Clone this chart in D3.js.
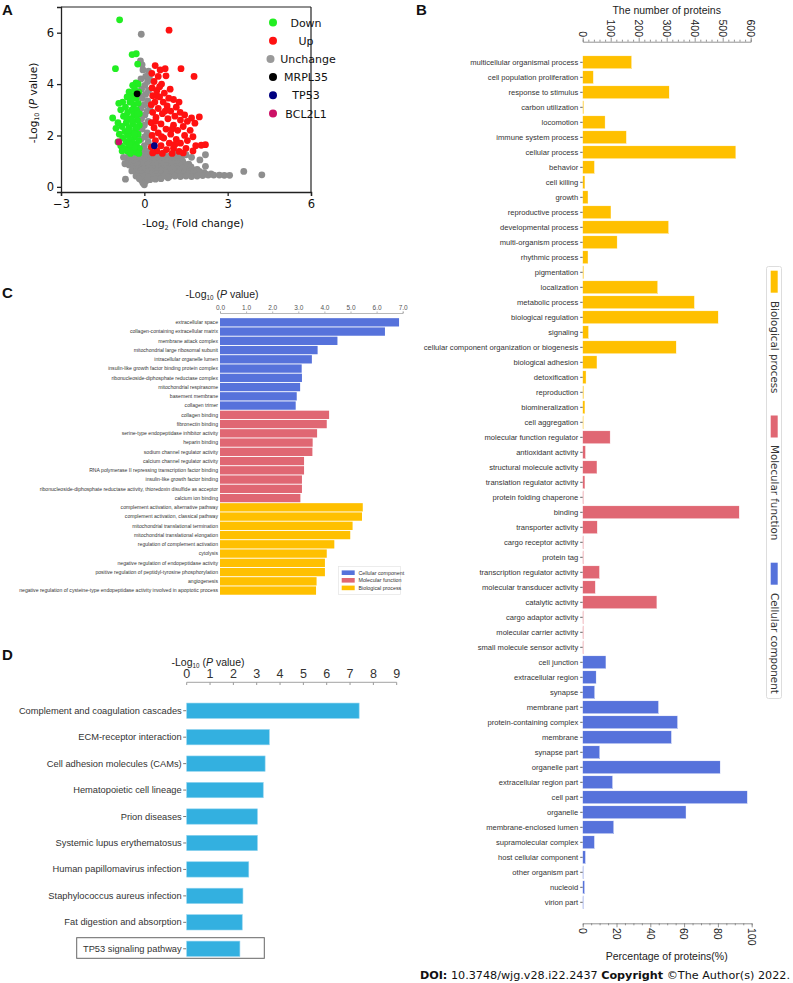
<!DOCTYPE html>
<html><head><meta charset="utf-8">
<script src="https://cdn.jsdelivr.net/npm/d3@7"></script>
<style>body{margin:0;background:#fff}svg{display:block}</style>
</head><body>
<svg id="fig" width="793" height="983"></svg>
<script>
// ---------------- DATA ----------------
// Panel A: volcano plot points [-log2 FC, -log10 P]
const volcanoUnchange = [
[-0.11,5.94],[-0.14,4.9],[-0.08,4.75],[0.15,4.5],[-0.05,4.55],[0.05,4.3],[-0.12,4.2],[0.12,4.1],[0.02,3.95],[-0.10,3.8],[0.15,3.75],[0.05,3.6],[-0.08,3.45],[0.12,3.35],[0.0,3.2],[-0.12,3.05],[0.10,2.95],[0.02,2.8],[-0.10,2.65],[0.14,2.55],[0.0,2.4],[-0.08,2.25],[0.10,2.1],[0.02,1.95],[-0.12,1.85],[0.14,1.75],[0.0,1.6],[-0.06,1.45],[0.08,1.4],[0.18,4.25],[0.20,3.1],[-0.15,3.55],[0.18,2.0],
[-0.55,1.25],[-0.4,1.2],[-0.25,1.22],[-0.1,1.25],[0.1,1.25],[0.3,1.22],[0.5,1.2],[0.7,1.22],[0.9,1.2],[1.1,1.22],[1.28,1.2],
[-0.5,1.12],[-0.32,1.13],[-0.18,1.12],[0.05,1.14],[0.22,1.12],[0.4,1.13],[0.6,1.12],[0.8,1.13],[1.0,1.12],[1.18,1.1],[1.32,1.1],
[-0.6,1.05],[-0.45,1.0],[-0.3,1.05],[-0.15,1.0],[0.0,1.05],[0.15,1.0],[0.32,1.05],[0.5,1.0],[0.68,1.03],[0.85,1.0],[1.02,1.02],[1.2,0.98],[1.38,1.0],
[-0.48,0.92],[-0.3,0.93],[-0.12,0.92],[0.05,0.93],[0.2,0.92],[0.38,0.93],[0.55,0.92],[0.72,0.92],[0.9,0.91],[1.08,0.9],[1.25,0.9],[1.42,0.9],[1.6,0.88],
[-0.55,0.85],[-0.38,0.8],[-0.2,0.85],[-0.05,0.8],[0.12,0.85],[0.28,0.8],[0.45,0.85],[0.62,0.8],[0.8,0.83],[0.98,0.8],[1.15,0.78],[1.32,0.82],[1.5,0.8],[1.68,0.78],
[-0.38,0.72],[-0.2,0.72],[-0.02,0.71],[0.15,0.72],[0.32,0.71],[0.5,0.72],[0.68,0.7],[0.85,0.71],[1.02,0.7],[1.2,0.69],[1.38,0.7],[1.55,0.68],[1.72,0.68],[1.9,0.68],
[-0.45,0.62],[-0.28,0.6],[-0.12,0.65],[0.05,0.6],[0.22,0.62],[0.4,0.6],[0.58,0.62],[0.75,0.58],[0.92,0.6],[1.1,0.58],[1.28,0.6],[1.45,0.58],[1.62,0.6],[1.8,0.58],[1.98,0.6],[2.15,0.55],
[-0.2,0.52],[-0.05,0.51],[0.1,0.52],[0.28,0.5],[0.45,0.51],[0.62,0.5],[0.8,0.5],[1.0,0.5],[1.2,0.5],[1.4,0.5],[1.6,0.5],[1.8,0.5],[2.0,0.5],[2.2,0.5],[2.4,0.5],
[-0.3,0.42],[-0.15,0.4],[0.0,0.42],[0.15,0.4],[0.32,0.42],[0.5,0.4],[0.7,0.42],[0.9,0.4],[1.1,0.42],[1.3,0.4],[1.5,0.42],[1.7,0.4],[1.9,0.42],[2.1,0.44],[2.3,0.46],[2.5,0.46],[2.7,0.46],[2.88,0.45],[3.07,0.45],
[-0.1,0.25],[0.05,0.22],[0.2,0.28],[0.4,0.3],[0.6,0.32],[0.85,0.35],[0.0,0.08],[-0.05,0.15],[0.12,0.33],[-0.18,0.32],
[2.2,1.25],[2.2,0.8],[3.58,0.6],[4.23,0.47],[-0.68,0.3],[2.0,1.05],[1.7,1.15],[1.5,1.25],[-0.7,0.9],[-0.75,1.15],[0.25,1.3],[-0.4,1.32],[0.7,1.32],[1.1,1.32]
];
const volcanoDown = [
[-0.89,6.5],[-1.04,4.6],[-0.44,5.15],[-0.29,5.18],[-0.24,4.78],
[-0.30,4.05],[-0.22,4.0],[-0.42,3.95],[-0.35,3.8],[-0.55,3.7],[-0.20,3.7],[-0.45,3.55],[-0.62,3.5],[-0.30,3.45],
[-0.78,3.3],[-0.92,3.25],[-0.52,3.3],[-0.38,3.2],[-0.22,3.25],[-0.68,3.1],[-0.45,3.0],[-0.28,3.0],[-0.85,3.0],
[-0.60,2.9],[-0.18,2.85],[-0.38,2.8],[-0.75,2.75],[-1.14,2.68],[-0.52,2.65],[-0.25,2.6],[-0.95,2.5],[-0.65,2.5],[-0.42,2.45],
[-0.18,2.4],[-0.80,2.35],[-1.02,2.28],[-0.55,2.3],[-0.32,2.25],[-0.70,2.15],[-0.45,2.1],[-0.22,2.05],[-0.90,2.05],[-0.60,2.0],
[-0.35,1.95],[-0.78,1.9],[-0.50,1.85],[-0.20,1.8],[-0.95,1.75],[-0.65,1.75],[-0.40,1.7],[-0.28,1.6],[-0.85,1.6],[-0.55,1.55],
[-0.72,1.5],[-0.18,1.5],[-0.42,1.45],[-0.62,1.4],[-0.30,1.35],[-0.50,1.3],[-0.20,1.3],[-0.80,1.4],[-0.36,1.55],[-0.25,2.85],[-0.48,3.35],[-0.33,3.6],[-0.58,2.2],[-0.27,2.3],[-0.45,2.6],[-0.65,2.7],[-0.35,2.05],[-0.53,1.65]
];
const volcanoUp = [
[0.89,6.1],[1.32,4.6],[1.79,4.3],[0.39,4.72],[0.57,4.55],[0.75,4.6],[0.78,4.32],[0.27,4.42],[0.50,4.3],[0.35,4.1],
[0.62,4.0],[0.93,3.8],[0.28,3.85],[0.45,3.75],[0.72,3.65],[0.30,3.55],[0.55,3.5],[0.88,3.45],[1.05,3.4],[0.38,3.3],
[0.68,3.3],[0.25,3.2],[0.82,3.15],[1.15,3.1],[0.50,3.05],[0.95,2.95],[1.29,2.9],[0.30,2.9],[0.65,2.85],[1.45,2.8],
[1.10,2.75],[1.70,2.68],[1.98,2.72],[0.42,2.7],[0.85,2.65],[1.30,2.6],[1.55,2.55],[0.25,2.5],[1.82,2.48],[0.60,2.45],
[1.05,2.4],[1.40,2.35],[0.35,2.3],[0.78,2.25],[1.20,2.2],[1.65,2.2],[0.50,2.1],[0.95,2.05],[1.45,2.0],[0.28,2.0],
[1.75,1.95],[0.70,1.9],[1.15,1.85],[1.55,1.8],[0.40,1.8],[0.90,1.7],[1.30,1.7],[2.20,1.64],[2.05,1.62],[1.85,1.6],
[0.60,1.6],[0.25,1.55],[1.05,1.5],[1.50,1.5],[0.80,1.45],[1.75,1.4],[0.45,1.4],[1.25,1.38],[0.30,1.32],[0.65,1.3],
[1.00,1.3],[1.40,1.32],[0.55,3.9],[0.40,2.55],[1.25,3.3],[0.62,1.95],[1.00,2.25],[0.75,2.95],[0.45,3.55],[1.10,1.65]
];
const highlightNames = ["MRPL35","TP53","BCL2L1"];
const highlightX = [-0.26, 0.36, -0.92];
const highlightY = [3.62, 1.6, 1.75];
const volcanoLegend = ["Down","Up","Unchange","MRPL35","TP53","BCL2L1"];
const volcanoXTicks = [-3,0,3,6];
const volcanoYTicks = [0,2,4,6];

// Panel B: GO level-2 classification (number of proteins)
const bpTerms = ["multicellular organismal process","cell population proliferation","response to stimulus","carbon utilization","locomotion","immune system process","cellular process","behavior","cell killing","growth","reproductive process","developmental process","multi-organism process","rhythmic process","pigmentation","localization","metabolic process","biological regulation","signaling","cellular component organization or biogenesis","biological adhesion","detoxification","reproduction","biomineralization","cell aggregation"];
const bpCounts = [175,38,309,4,80,156,547,42,8,19,101,307,123,19,4,268,399,484,21,334,51,12,4,8,3];
const mfTerms = ["molecular function regulator","antioxidant activity","structural molecule activity","translation regulator activity","protein folding chaperone","binding","transporter activity","cargo receptor activity","protein tag","transcription regulator activity","molecular transducer activity","catalytic activity","cargo adaptor activity","molecular carrier activity","small molecule sensor activity"];
const mfCounts = [98,10,51,8,3,559,52,3,3,60,45,265,2,3,2];
const ccTerms = ["cell junction","extracellular region","synapse","membrane part","protein-containing complex","membrane","synapse part","organelle part","extracellular region part","cell part","organelle","membrane-enclosed lumen","supramolecular complex","host cellular component","other organism part","nucleoid","virion part"];
const ccCounts = [83,48,43,271,339,317,61,491,107,588,369,111,42,10,2,7,2];
const bTopTicks = [0,100,200,300,400,500,600];
const bBottomTicks = [0,20,40,60,80,100];
const bLegend = ["Biological process","Molecular function","Cellular component"];

// Panel C: GO enrichment (-log10 P)
const cCCTerms = ["extracellular space","collagen-containing extracellular matrix","membrane attack complex","mitochondrial large ribosomal subunit","intracellular organelle lumen","insulin-like growth factor binding protein complex","ribonucleoside-diphosphate reductase complex","mitochondrial respirasome","basement membrane","collagen trimer"];
const cCCValues = [6.86,6.32,4.50,3.74,3.52,3.13,3.14,3.07,2.94,2.90];
const cMFTerms = ["collagen binding","fibronectin binding","serine-type endopeptidase inhibitor activity","heparin binding","sodium channel regulator activity","calcium channel regulator activity","RNA polymerase II repressing transcription factor binding","insulin-like growth factor binding","ribonucleoside-diphosphate reductase activity, thioredoxin disulfide as acceptor","calcium ion binding"];
const cMFValues = [4.18,4.09,3.72,3.55,3.54,3.22,3.22,3.14,3.14,3.08];
const cBPTerms = ["complement activation, alternative pathway","complement activation, classical pathway","mitochondrial translational termination","mitochondrial translational elongation","regulation of complement activation","cytolysis","negative regulation of endopeptidase activity","positive regulation of peptidyl-tyrosine phosphorylation","angiogenesis","negative regulation of cysteine-type endopeptidase activity involved in apoptotic process"];
const cBPValues = [5.47,5.44,5.08,4.99,4.38,4.09,4.02,4.02,3.70,3.68];
const cTicks = [0,1,2,3,4,5,6,7];
const cLegend = ["Cellular component","Molecular function","Biological process"];

// Panel D: KEGG enrichment (-log10 P)
const dTerms = ["Complement and coagulation cascades","ECM-receptor interaction","Cell adhesion molecules (CAMs)","Hematopoietic cell lineage","Prion diseases","Systemic lupus erythematosus","Human papillomavirus infection","Staphylococcus aureus infection","Fat digestion and absorption","TP53 signaling pathway"];
const dValues = [7.39,3.54,3.36,3.28,3.03,3.03,2.66,2.41,2.38,2.28];
const dTicks = [0,1,2,3,4,5,6,7,8,9];

// ---------------- DRAWING ----------------
const svg = d3.select("#fig");
const ARIAL = "'Liberation Sans', Arial, sans-serif";
const VERD = "'DejaVu Sans', Verdana, sans-serif";
const COL = {bp:"#ffc000", mf:"#e06773", cc:"#5672db", d:"#33b0e0"};

function panelLetter(t,x,y){
  svg.append("text").attr("x",x).attr("y",y).text(t)
    .attr("font-family",ARIAL).attr("font-weight","bold").attr("font-size",15).attr("fill","#111");
}
function logTitle(g,base,size,font,fill){
  g.attr("font-family",font).attr("font-size",size).attr("fill",fill);
  g.append("tspan").text("-Log");
  g.append("tspan").text(base).attr("font-size",size*0.6).attr("dy",size*0.22);
  g.append("tspan").text(" (").attr("dy",-size*0.22);
  g.append("tspan").text("P").attr("font-style","italic");
  g.append("tspan").text(" value)");
}

// ===== Panel A =====
panelLetter("A",2,15);
const ax = d3.scaleLinear().domain([-3,6]).range([61,311]);
const ay = d3.scaleLinear().domain([-0.2,7]).range([192,7]);
const gA = svg.append("g");
gA.append("line").attr("x1",61).attr("x2",311).attr("y1",7).attr("y2",7).attr("stroke","#222").attr("stroke-width",1.2);
gA.append("line").attr("x1",311).attr("x2",311).attr("y1",7).attr("y2",192).attr("stroke","#222").attr("stroke-width",1.2);
gA.selectAll("circle.g").data(volcanoUnchange).join("circle")
  .attr("cx",d=>ax(d[0])).attr("cy",d=>ay(d[1])).attr("r",3.4).attr("fill","#8e8e8e");
gA.selectAll("circle.dn").data(volcanoDown).join("circle").attr("class","dn")
  .attr("cx",d=>ax(d[0])).attr("cy",d=>ay(d[1])).attr("r",3.4).attr("fill","#22ee22");
gA.selectAll("circle.up").data(volcanoUp).join("circle").attr("class","up")
  .attr("cx",d=>ax(d[0])).attr("cy",d=>ay(d[1])).attr("r",3.4).attr("fill","#ff1111");
const hlCol = ["#000000","#000080","#cc1166"];
highlightNames.forEach((n,i)=>{
  gA.append("circle").attr("cx",ax(highlightX[i])).attr("cy",ay(highlightY[i])).attr("r",3.4).attr("fill",hlCol[i]);
});
const xAxA = gA.append("g").attr("transform","translate(0,192)")
  .call(d3.axisBottom(ax).tickValues(volcanoXTicks).tickSize(4).tickPadding(4).tickFormat(d3.format("d")));
const yAxA = gA.append("g").attr("transform","translate(61,0)")
  .call(d3.axisLeft(ay).tickValues(volcanoYTicks).tickSize(4).tickPadding(3).tickFormat(d3.format("d")));
[xAxA,yAxA].forEach(a=>{
  a.selectAll("path,line").attr("stroke","#222").attr("stroke-width",1.3);
  a.selectAll("text").attr("font-family",VERD).attr("font-size",11.5).attr("fill","#111");
});
const xl = gA.append("text").attr("x",193).attr("y",227).attr("text-anchor","middle");
xl.attr("font-family",VERD).attr("font-size",10.5).attr("fill","#111");
xl.append("tspan").text("-Log");
xl.append("tspan").text("2").attr("font-size",6.5).attr("dy",2.5);
xl.append("tspan").text(" (Fold change)").attr("dy",-2.5);
const yl = gA.append("text").attr("transform","translate(37,103) rotate(-90)").attr("text-anchor","middle");
logTitle(yl,"10",10.5,VERD,"#111");
const legCol = ["#22ee22","#ff1111","#9a9a9a","#000000","#000080","#cc1166"];
volcanoLegend.forEach((t,i)=>{
  const yy = 22.5+i*18.2;
  gA.append("circle").attr("cx",i===2?270.5:273).attr("cy",yy).attr("r",4).attr("fill",legCol[i]);
  gA.append("text").attr("x",i===2?308:306).attr("y",yy+4).attr("text-anchor","middle").text(t)
    .attr("font-family",VERD).attr("font-size",11).attr("fill","#111");
});

// ===== Panel B =====
panelLetter("B",416,15);
const bTerms = bpTerms.concat(mfTerms, ccTerms);
const bCounts = bpCounts.concat(mfCounts, ccCounts);
const bGroup = bpTerms.map(()=>"bp").concat(mfTerms.map(()=>"mf"), ccTerms.map(()=>"cc"));
const bx = d3.scaleLinear().domain([0,600]).range([582.7,750.7]);
const bxp = d3.scaleLinear().domain([0,100]).range([582.7,751.7]);
const by = d3.scaleBand().domain(bTerms).range([54.8,909.8]).paddingInner(0.14).paddingOuter(0.07);
const gB = svg.append("g");
gB.selectAll("rect").data(bTerms).join("rect")
  .attr("x",bx(0)).attr("y",d=>by(d)).attr("height",by.bandwidth())
  .attr("width",(d,i)=>Math.max(0.8,bx(bCounts[i])-bx(0)))
  .attr("fill",(d,i)=>COL[bGroup[i]]).attr("stroke","#fff").attr("stroke-width",0.4);
const byAx = gB.append("g").attr("transform","translate(582.7,0)")
  .call(d3.axisLeft(by).tickSize(2.5).tickPadding(2));
byAx.select(".domain").remove();
byAx.selectAll("line").attr("stroke","#666");
byAx.selectAll("text").attr("font-family",ARIAL).attr("font-size",7.6).attr("fill","#333");
// top axis
const bTop = gB.append("g").attr("transform","translate(0,41.7)")
  .call(d3.axisTop(bx).tickValues(d3.range(0,601,20)).tickSize(2).tickFormat(""));
bTop.selectAll("path,line").attr("stroke","#777").attr("stroke-width",0.8);
bTop.selectAll(".tick").filter(d=>d%100===0).select("line").attr("y2",-4);
bTopTicks.forEach(v=>{
  gB.append("text").attr("transform",`translate(${bx(v)},37) rotate(90)`).attr("text-anchor","end")
    .attr("dy","0.35em").text(v).attr("font-family",ARIAL).attr("font-size",10.5).attr("fill","#222");
});
gB.append("text").attr("x",666.7).attr("y",14).attr("text-anchor","middle").text("The number of proteins")
  .attr("font-family",ARIAL).attr("font-size",10.5).attr("fill","#222");
// bottom axis
const bBot = gB.append("g").attr("transform","translate(0,923.3)")
  .call(d3.axisBottom(bxp).tickValues(d3.range(0,101,5)).tickSize(2).tickFormat(""));
bBot.selectAll("path,line").attr("stroke","#777").attr("stroke-width",0.8);
bBot.selectAll(".tick").filter(d=>d%20===0).select("line").attr("y2",4);
bBottomTicks.forEach(v=>{
  gB.append("text").attr("transform",`translate(${bxp(v)},928) rotate(90)`).attr("text-anchor","start")
    .attr("dy","0.35em").text(v).attr("font-family",ARIAL).attr("font-size",10.5).attr("fill","#222");
});
gB.append("text").attr("x",666.7).attr("y",960).attr("text-anchor","middle").text("Percentage of proteins(%)")
  .attr("font-family",ARIAL).attr("font-size",10.5).attr("fill","#222");
// legend
gB.append("rect").attr("x",766.5).attr("y",266.5).attr("width",15).attr("height",432).attr("rx",2)
  .attr("fill","#fff").attr("stroke","#ddd").attr("stroke-width",1);
const bLegSq = [[270.7,22],[415.5,22],[562.7,22]];
const bLegTxt = [301,445,593];
const bLegCol = [COL.bp,COL.mf,COL.cc];
bLegend.forEach((t,i)=>{
  gB.append("rect").attr("x",770.7).attr("y",bLegSq[i][0]).attr("width",7).attr("height",bLegSq[i][1]).attr("fill",bLegCol[i]);
  gB.append("text").attr("transform",`translate(774.2,${bLegTxt[i]}) rotate(90)`).attr("dy","0.35em")
    .text(t).attr("font-family",VERD).attr("font-size",10.3).attr("fill","#333");
});

// ===== Panel C =====
panelLetter("C",2,298);
const cTerms = cCCTerms.concat(cMFTerms, cBPTerms);
const cVals = cCCValues.concat(cMFValues, cBPValues);
const cGroup = cCCTerms.map(()=>"cc").concat(cMFTerms.map(()=>"mf"), cBPTerms.map(()=>"bp"));
const cx = d3.scaleLinear().domain([0,7]).range([220,402.7]);
const cy = d3.scaleBand().domain(cTerms).range([317.7,595.2]).paddingInner(0.1).paddingOuter(0.05);
const gC = svg.append("g");
gC.selectAll("rect").data(cTerms).join("rect")
  .attr("x",cx(0)).attr("y",d=>cy(d)).attr("height",cy.bandwidth())
  .attr("width",(d,i)=>cx(cVals[i])-cx(0)).attr("fill",(d,i)=>COL[cGroup[i]]);
cTerms.forEach((t,i)=>{
  gC.append("text").attr("x",218).attr("y",cy(t)+cy.bandwidth()/2).attr("dy","0.35em").attr("text-anchor","end")
    .text(t).attr("font-family",ARIAL).attr("font-size",5.1).attr("fill","#333");
});
const cAx = gC.append("g").attr("transform","translate(0,313)")
  .call(d3.axisTop(cx).tickValues(cTicks).tickSize(1.5).tickPadding(1.5));
cAx.selectAll("path,line").attr("stroke","#999").attr("stroke-width",0.7);
cAx.selectAll("text").attr("font-family",ARIAL).attr("font-size",6.5).attr("fill","#555");
const ct = gC.append("text").attr("x",222).attr("y",298).attr("text-anchor","middle");
logTitle(ct,"10",10.5,ARIAL,"#222");
gC.append("rect").attr("x",338.5).attr("y",566.5).attr("width",62).attr("height",28)
  .attr("fill","#fff").attr("fill-opacity",0.85).attr("stroke","#e4e4e4").attr("stroke-width",0.7);
const cLegCol = [COL.cc,COL.mf,COL.bp];
cLegend.forEach((t,i)=>{
  const yy = 572.7+i*7.6;
  gC.append("rect").attr("x",341.7).attr("y",yy-2.3).attr("width",13).attr("height",4.6).attr("fill",cLegCol[i]);
  gC.append("text").attr("x",358.5).attr("y",yy).attr("dy","0.35em").text(t)
    .attr("font-family",ARIAL).attr("font-size",5.3).attr("fill","#333");
});

// ===== Panel D =====
panelLetter("D",2,660);
const dx = d3.scaleLinear().domain([0,9]).range([186.7,396.7]);
const dy = d3.scaleBand().domain(dTerms).range([697.5,962]).paddingInner(0.42).paddingOuter(0.21);
const gD = svg.append("g");
gD.append("rect").attr("x",76.7).attr("y",937.7).attr("width",187.6).attr("height",20.6)
  .attr("fill","none").attr("stroke","#666").attr("stroke-width",1);
gD.selectAll("rect.bar").data(dTerms).join("rect").attr("class","bar")
  .attr("x",dx(0)).attr("y",d=>dy(d)).attr("height",dy.bandwidth())
  .attr("width",(d,i)=>dx(dValues[i])-dx(0)).attr("fill",COL.d).attr("stroke","#8fd3ef").attr("stroke-width",0.6);
const dyAx = gD.append("g").attr("transform","translate(186.2,0)")
  .call(d3.axisLeft(dy).tickSize(3).tickPadding(1.5));
dyAx.select(".domain").remove();
dyAx.selectAll("line").attr("stroke","#777");
dyAx.selectAll("text").attr("font-family",ARIAL).attr("font-size",9.3).attr("fill","#333");
gD.append("line").attr("x1",dx(0)).attr("x2",dx(9)).attr("y1",682.3).attr("y2",682.3).attr("stroke","#999").attr("stroke-width",0.9);
dx.ticks(9).forEach(v=>{
  gD.append("line").attr("x1",dx(v)).attr("x2",dx(v)).attr("y1",682.3).attr("y2",685).attr("stroke","#999");
});
dTicks.forEach(v=>{
  gD.append("text").attr("x",dx(v)).attr("y",678).attr("text-anchor","middle").text(v)
    .attr("font-family",ARIAL).attr("font-size",12.5).attr("fill","#333");
});
const dt = gD.append("text").attr("x",208).attr("y",666).attr("text-anchor","middle");
logTitle(dt,"10",10.5,ARIAL,"#222");

// ===== Footer =====
const ft = svg.append("text").attr("x",790).attr("y",979).attr("text-anchor","end")
  .attr("font-family",VERD).attr("font-size",11.2).attr("fill","#111");
ft.append("tspan").text("DOI:").attr("font-weight","bold");
ft.append("tspan").text(" 10.3748/wjg.v28.i22.2437  ");
ft.append("tspan").text("Copyright").attr("font-weight","bold");
ft.append("tspan").text(" ©The Author(s) 2022.");
</script>
</body></html>
